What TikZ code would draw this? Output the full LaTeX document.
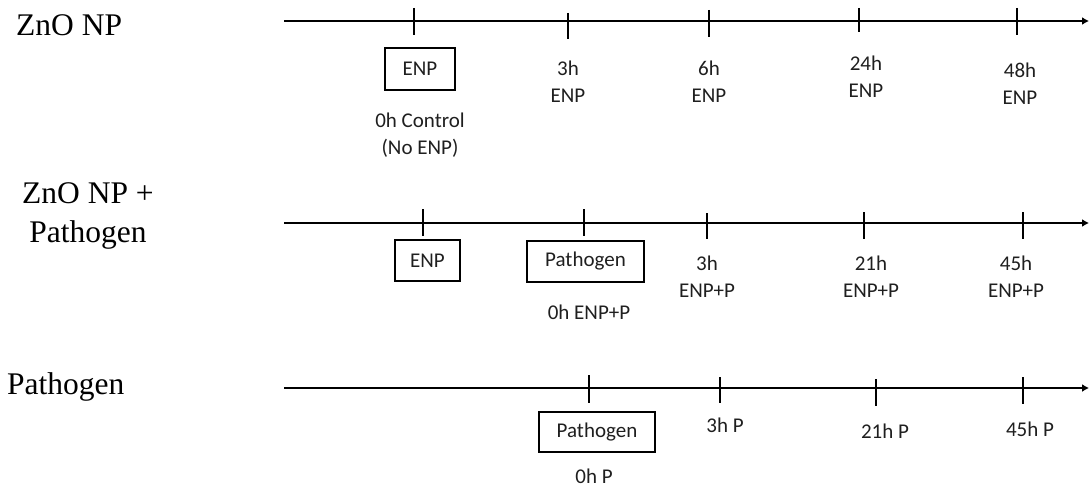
\documentclass[tikz,border=0pt]{standalone}
\usepackage{fontspec}
\setmainfont{Liberation Serif}
\newfontfamily\calib{Carlito}
\usetikzlibrary{arrows.meta}
\tikzset{
  axis/.style={line width=2.8pt, -{Latex[length=7pt,width=8pt]}},
  tick/.style={line width=2.8pt},
  rowlabel/.style={font=\fontsize{31.5}{39}\selectfont, inner sep=0pt, align=center},
  tlabel/.style={font=\calib\fontsize{21}{27}\selectfont, inner sep=0pt, align=center, text=black!88},
  boxed/.style={draw, line width=1.3pt, font=\calib\fontsize{21}{27}\selectfont, inner sep=0pt, text=black!88}
}
\begin{document}
\begin{tikzpicture}[x=1pt,y=-1pt]
\useasboundingbox (0,0) rectangle (1089,487);
% row labels
\node[rowlabel, anchor=base west] (r1) at (16,36) {ZnO NP};
\node[rowlabel] (r2) at (88,216) {ZnO NP +\\Pathogen};
\node[rowlabel, anchor=base west] (r3) at (7,394) {Pathogen};
% axes
\coordinate (a1s) at (284,21); \coordinate (a1e) at (1089,21);
\coordinate (a2s) at (284,223); \coordinate (a2e) at (1089,223);
\coordinate (a3s) at (284,388); \coordinate (a3e) at (1089,388);
\draw[axis] (a1s) -- (a1e);
\draw[axis] (a2s) -- (a2e);
\draw[axis] (a3s) -- (a3e);
% ticks row 1
\foreach \x/\a/\b [count=\i] in {414/8/35, 568/13/39, 709/10/37, 859/8/32, 1017/8/35}{
  \coordinate (t1\i a) at (\x,\a); \coordinate (t1\i b) at (\x,\b);
  \draw[tick] (t1\i a) -- (t1\i b);
}
% ticks row 2
\foreach \x/\a/\b [count=\i] in {423/209/236, 584/209/236, 707/213/239, 864/212/239, 1023/212/239}{
  \coordinate (t2\i a) at (\x,\a); \coordinate (t2\i b) at (\x,\b);
  \draw[tick] (t2\i a) -- (t2\i b);
}
% ticks row 3
\foreach \x/\a/\b [count=\i] in {589/375/403, 720/377/403, 876/379/406, 1023/377/404}{
  \coordinate (t3\i a) at (\x,\a); \coordinate (t3\i b) at (\x,\b);
  \draw[tick] (t3\i a) -- (t3\i b);
}
% row 1 labels
\node[boxed, minimum width=70pt, minimum height=42pt] (b1) at (420,69) {ENP};
\node[tlabel] (c1) at (420,135) {0h Control\\(No ENP)};
\node[tlabel] (l12) at (568,81.5) {3h\\ENP};
\node[tlabel] (l13) at (709,81.5) {6h\\ENP};
\node[tlabel] (l14) at (866,77) {24h\\ENP};
\node[tlabel] (l15) at (1020,83.5) {48h\\ENP};
% row 2 labels
\node[boxed, minimum width=65pt, minimum height=41pt] (b21) at (427.5,260.5) {ENP};
\node[boxed, minimum width=117pt, minimum height=41pt] (b22) at (585.5,261.5) {Pathogen};
\node[tlabel] (c2) at (589,312) {0h ENP+P};
\node[tlabel] (l23) at (707,276.5) {3h\\ENP+P};
\node[tlabel] (l24) at (871,276.5) {21h\\ENP+P};
\node[tlabel] (l25) at (1016,276.5) {45h\\ENP+P};
% row 3 labels
\node[boxed, minimum width=116pt, minimum height=40pt] (b3) at (597,432) {Pathogen};
\node[tlabel] (c3) at (594,476.5) {0h P};
\node[tlabel] (l32) at (725,425) {3h P};
\node[tlabel] (l33) at (885,431) {21h P};
\node[tlabel] (l34) at (1030,429) {45h P};
\end{tikzpicture}
\end{document}
